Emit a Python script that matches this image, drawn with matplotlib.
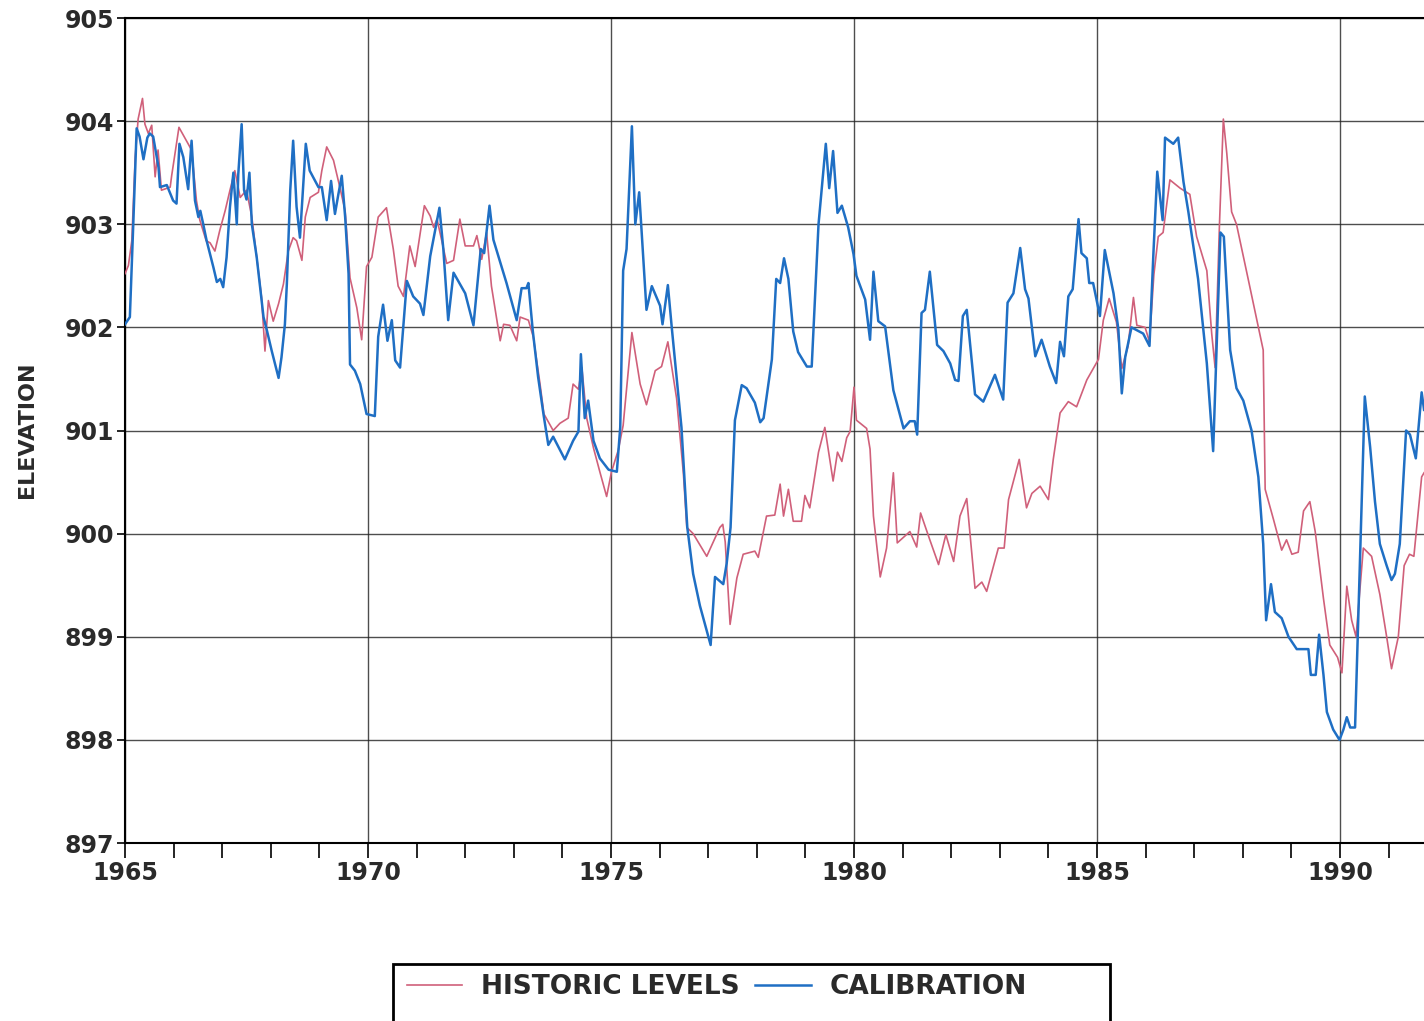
import matplotlib
matplotlib.use('Agg')
import matplotlib.pyplot as plt
from matplotlib.patches import Rectangle

# Calibration (blue)
calib_year = [1965.0, 1965.1, 1965.17, 1965.24, 1965.3, 1965.38, 1965.46, 1965.51, 1965.58, 1965.69,
              1965.72, 1965.86, 1965.99, 1966.06, 1966.12, 1966.2, 1966.3, 1966.37, 1966.44, 1966.51,
              1966.55, 1966.61, 1966.68, 1966.82, 1966.89, 1966.96, 1967.02, 1967.09, 1967.16, 1967.23,
              1967.3, 1967.33, 1967.4, 1967.45, 1967.5, 1967.56, 1967.61, 1967.71, 1967.85, 1967.92,
              1968.02, 1968.16, 1968.22, 1968.29, 1968.33, 1968.4, 1968.46, 1968.53, 1968.6, 1968.72,
              1968.8, 1968.98, 1969.05, 1969.15, 1969.24, 1969.32, 1969.39, 1969.46, 1969.53, 1969.6,
              1969.63, 1969.73, 1969.84, 1969.97, 1970.14, 1970.21, 1970.31, 1970.4, 1970.49, 1970.56,
              1970.66, 1970.8, 1970.93, 1971.07, 1971.14, 1971.28, 1971.47, 1971.55, 1971.65, 1971.76,
              1972.0, 1972.17, 1972.32, 1972.39, 1972.5, 1972.58, 1972.85, 1973.06, 1973.16, 1973.26,
              1973.3, 1973.39, 1973.5, 1973.61, 1973.71, 1973.81, 1974.05, 1974.22, 1974.33, 1974.38,
              1974.46, 1974.53, 1974.64, 1974.77, 1974.95, 1975.12, 1975.19, 1975.25, 1975.32, 1975.43,
              1975.5, 1975.58, 1975.63, 1975.73, 1975.84, 1976.01, 1976.06, 1976.17, 1976.25, 1976.45,
              1976.57, 1976.69, 1976.83, 1977.05, 1977.14, 1977.31, 1977.38, 1977.46, 1977.55, 1977.69,
              1977.79, 1977.96, 1978.07, 1978.14, 1978.31, 1978.4, 1978.48, 1978.56, 1978.65, 1978.75,
              1978.85, 1979.03, 1979.13, 1979.27, 1979.42, 1979.49, 1979.57, 1979.66, 1979.75, 1979.88,
              1979.99, 1980.05, 1980.23, 1980.33, 1980.4, 1980.5, 1980.64, 1980.81, 1981.02, 1981.15,
              1981.25, 1981.3, 1981.39, 1981.46, 1981.56, 1981.71, 1981.84, 1981.98, 1982.08, 1982.15,
              1982.24, 1982.32, 1982.49, 1982.66, 1982.9, 1983.07, 1983.16, 1983.28, 1983.42, 1983.52,
              1983.59, 1983.73, 1983.86, 1984.03, 1984.16, 1984.24, 1984.32, 1984.41, 1984.5, 1984.62,
              1984.68, 1984.79, 1984.84, 1984.92, 1985.06, 1985.16, 1985.34, 1985.44, 1985.51, 1985.58,
              1985.71, 1985.95, 1986.08, 1986.16, 1986.24, 1986.35, 1986.4, 1986.57, 1986.67, 1986.78,
              1986.88, 1987.08, 1987.26, 1987.39, 1987.46, 1987.54, 1987.61, 1987.74, 1987.87, 1988.01,
              1988.18, 1988.32, 1988.42, 1988.48, 1988.58, 1988.66, 1988.8, 1988.94, 1989.11, 1989.35,
              1989.4, 1989.5, 1989.57, 1989.66, 1989.73, 1989.86, 1989.99, 1990.07, 1990.14, 1990.21,
              1990.31, 1990.4, 1990.51, 1990.62, 1990.72, 1990.82, 1990.96, 1991.06, 1991.13, 1991.23,
              1991.36, 1991.44, 1991.56, 1991.68, 1991.73]
calib_elev = [902.03, 902.1, 903.0, 903.93, 903.85, 903.63, 903.84, 903.88, 903.85, 903.55,
              903.36, 903.38, 903.23, 903.2, 903.78, 903.65, 903.34, 903.81, 903.23, 903.07,
              903.13, 903.0, 902.84, 902.58, 902.44, 902.47, 902.39, 902.68, 903.17, 903.5,
              903.0, 903.48, 903.97, 903.33, 903.24, 903.5, 903.0, 902.68, 902.1, 901.97,
              901.77, 901.51, 901.71, 902.03, 902.42, 903.33, 903.81, 903.17, 902.87, 903.78,
              903.52, 903.36, 903.36, 903.04, 903.42, 903.1, 903.29, 903.47, 903.07, 902.52,
              901.64, 901.58, 901.45, 901.16, 901.14, 901.91, 902.22, 901.87, 902.07, 901.68,
              901.61, 902.45, 902.3, 902.23, 902.12, 902.69, 903.16, 902.76, 902.07, 902.53,
              902.33, 902.02, 902.76, 902.72, 903.18, 902.85, 902.43, 902.07, 902.38, 902.38,
              902.43, 901.97, 901.52, 901.16, 900.86, 900.94, 900.72, 900.9, 900.99, 901.74,
              901.12, 901.29, 900.9, 900.73, 900.62, 900.6, 901.03, 902.55, 902.76, 903.95,
              903.0, 903.31, 902.93, 902.17, 902.4, 902.21, 902.03, 902.41, 902.0, 901.03,
              900.06, 899.61, 899.3, 898.92, 899.58, 899.51, 899.71, 900.06, 901.1, 901.44,
              901.41, 901.27, 901.08, 901.12, 901.69, 902.47, 902.43, 902.67, 902.47, 901.96,
              901.76, 901.62, 901.62, 903.0, 903.78, 903.35, 903.71, 903.11, 903.18, 902.97,
              902.71, 902.5, 902.27, 901.88, 902.54, 902.06, 902.01, 901.39, 901.02, 901.09,
              901.09, 900.96, 902.14, 902.17, 902.54, 901.83, 901.77, 901.65, 901.49, 901.48,
              902.11, 902.17, 901.35, 901.28, 901.54, 901.3, 902.24, 902.33, 902.77, 902.37,
              902.28, 901.72, 901.88, 901.62, 901.46, 901.86, 901.72, 902.3, 902.37, 903.05,
              902.72, 902.67, 902.43, 902.43, 902.11, 902.75, 902.33, 901.98, 901.36, 901.71,
              902.0, 901.94, 901.82, 902.71, 903.51, 903.04, 903.84, 903.78, 903.84, 903.41,
              903.12, 902.47, 901.65, 900.8, 901.78, 902.92, 902.88, 901.78, 901.41, 901.29,
              901.0, 900.55, 899.9, 899.16, 899.51, 899.24, 899.18, 899.0, 898.88, 898.88,
              898.63, 898.63, 899.02, 898.63, 898.27, 898.1, 898.0, 898.1, 898.22, 898.12,
              898.12, 899.57, 901.33, 900.84, 900.31, 899.9, 899.69, 899.55, 899.61, 899.9,
              901.0, 900.96, 900.73, 901.37, 901.2]

# Historic levels (red)
hist_year = [1965.0, 1965.07, 1965.14, 1965.21, 1965.27, 1965.36, 1965.41, 1965.48, 1965.55, 1965.62,
             1965.68, 1965.75, 1965.93, 1965.96, 1966.11, 1966.3, 1966.37, 1966.47, 1966.54, 1966.67,
             1966.75, 1966.85, 1966.95, 1967.06, 1967.16, 1967.26, 1967.37, 1967.5, 1967.61, 1967.71,
             1967.81, 1967.88, 1967.95, 1968.05, 1968.16, 1968.26, 1968.36, 1968.46, 1968.53, 1968.64,
             1968.71, 1968.81, 1968.98, 1969.05, 1969.15, 1969.29, 1969.42, 1969.53, 1969.63, 1969.77,
             1969.87, 1969.97, 1970.08, 1970.21, 1970.38, 1970.52, 1970.62, 1970.73, 1970.86, 1970.97,
             1971.16, 1971.28, 1971.35, 1971.42, 1971.62, 1971.76, 1971.89, 1972.0, 1972.17, 1972.24,
             1972.34, 1972.44, 1972.54, 1972.72, 1972.79, 1972.92, 1973.06, 1973.13, 1973.3, 1973.4,
             1973.54, 1973.62, 1973.81, 1973.95, 1974.12, 1974.22, 1974.33, 1974.4, 1974.5, 1974.64,
             1974.77, 1974.91, 1975.01, 1975.15, 1975.25, 1975.43, 1975.6, 1975.73, 1975.91, 1976.04,
             1976.17, 1976.35, 1976.49, 1976.56, 1976.69, 1976.97, 1977.24, 1977.3, 1977.35, 1977.45,
             1977.59, 1977.72, 1977.96, 1978.03, 1978.2, 1978.37, 1978.48, 1978.55, 1978.65, 1978.75,
             1978.92, 1978.99, 1979.09, 1979.27, 1979.4, 1979.57, 1979.66, 1979.75, 1979.85, 1979.92,
             1980.0, 1980.05, 1980.26, 1980.33, 1980.4, 1980.54, 1980.67, 1980.81, 1980.89, 1981.15,
             1981.29, 1981.37, 1981.56, 1981.74, 1981.89, 1982.05, 1982.18, 1982.32, 1982.49, 1982.63,
             1982.73, 1982.97, 1983.09, 1983.18, 1983.4, 1983.55, 1983.66, 1983.83, 1984.0, 1984.1,
             1984.24, 1984.41, 1984.58, 1984.79, 1985.03, 1985.13, 1985.25, 1985.4, 1985.51, 1985.64,
             1985.75, 1985.82, 1985.99, 1986.08, 1986.17, 1986.26, 1986.36, 1986.5, 1986.71, 1986.91,
             1987.05, 1987.26, 1987.36, 1987.43, 1987.52, 1987.6, 1987.67, 1987.77, 1987.87, 1988.11,
             1988.32, 1988.42, 1988.46, 1988.63, 1988.8, 1988.9, 1989.01, 1989.14, 1989.25, 1989.38,
             1989.49, 1989.66, 1989.79, 1989.95, 1990.04, 1990.14, 1990.24, 1990.33, 1990.48, 1990.65,
             1990.82, 1990.96, 1991.06, 1991.2, 1991.32, 1991.43, 1991.52, 1991.68, 1991.73]
hist_elev = [902.52, 902.6, 902.84, 903.65, 904.02, 904.22, 903.97, 903.88, 903.96, 903.46,
             903.72, 903.33, 903.36, 903.47, 903.94, 903.78, 903.72, 903.23, 903.04, 902.84,
             902.82, 902.74, 902.94, 903.13, 903.33, 903.52, 903.26, 903.33, 903.07, 902.68,
             902.29, 901.77, 902.26, 902.06, 902.23, 902.42, 902.74, 902.87, 902.84, 902.65,
             903.07, 903.26, 903.31, 903.52, 903.75, 903.62, 903.36, 903.13, 902.48, 902.19,
             901.88, 902.59, 902.68, 903.07, 903.16, 902.76, 902.4, 902.3, 902.79, 902.59,
             903.18, 903.08, 902.97, 903.05, 902.62, 902.65, 903.05, 902.79, 902.79, 902.89,
             902.66, 902.92, 902.4, 901.87, 902.03, 902.02, 901.87, 902.1, 902.07, 901.91,
             901.45, 901.16, 901.0, 901.07, 901.12, 901.45, 901.4, 901.61, 901.12, 900.83,
             900.6, 900.36, 900.6, 900.81, 901.05, 901.95, 901.45, 901.25, 901.58, 901.62,
             901.86, 901.31, 900.58, 900.06, 900.0, 899.78, 900.06, 900.09, 899.92, 899.12,
             899.57, 899.8, 899.83, 899.77, 900.17, 900.18, 900.48, 900.17, 900.43, 900.12,
             900.12, 900.37, 900.25, 900.79, 901.03, 900.51, 900.79, 900.7, 900.93, 900.99,
             901.42, 901.1, 901.02, 900.82, 900.17, 899.58, 899.86, 900.59, 899.91, 900.02,
             899.87, 900.2, 899.94, 899.7, 899.99, 899.73, 900.17, 900.34, 899.47, 899.53,
             899.44, 899.86, 899.86, 900.33, 900.72, 900.25, 900.39, 900.46, 900.33, 900.72,
             901.17, 901.28, 901.23, 901.49, 901.69, 902.07, 902.28, 902.05, 901.6, 901.82,
             902.29, 902.02, 902.0, 901.86, 902.51, 902.88, 902.92, 903.43, 903.35, 903.29,
             902.88, 902.55, 901.94, 901.61, 903.0, 904.02, 903.69, 903.12, 903.0, 902.47,
             902.0, 901.78, 900.43, 900.14, 899.84, 899.94, 899.8, 899.82, 900.22, 900.31,
             900.02, 899.37, 898.92, 898.8, 898.65, 899.49, 899.16, 899.0, 899.86, 899.78,
             899.41, 899.0, 898.69, 899.0, 899.69, 899.8, 899.78, 900.55, 900.59]

year_ticks = [1965, 1970, 1975, 1980, 1985, 1990]
elev_ticks = [897, 898, 899, 900, 901, 902, 903, 904, 905]

plt.rcParams['font.family'] = ['DejaVu Sans']
plt.rcParams['font.weight'] = 'bold'
text_col = '#2a2a2a'

W, H = 1424, 1021
fig = plt.figure(figsize=(W / 100, H / 100), dpi=100)
ax = fig.add_axes([125 / W, 1 - 843 / H, 1 - 125 / W, (843 - 18) / H])

ax.plot(hist_year, hist_elev, color='#d0607a', lw=1.2, label='HISTORIC LEVELS', zorder=3)
ax.plot(calib_year, calib_elev, color='#1f6fc4', lw=1.8, label='CALIBRATION', zorder=4)

ax.set_xlim(1965, 1965 + (W - 125) / 48.6)
ax.set_ylim(897, 905)
ax.set_xticks(year_ticks)
ax.set_xticks(range(1965, 1992), minor=True)
ax.set_yticks(elev_ticks)
ax.tick_params(axis='x', which='both', direction='out', length=11, width=1.2,
               labelsize=17, pad=2, labelcolor=text_col)
ax.tick_params(axis='y', direction='out', length=6, width=1.2, labelsize=17, pad=2,
               labelcolor=text_col)
for lab in ax.get_xticklabels() + ax.get_yticklabels():
    lab.set_fontweight('bold')

ax.grid(True, which='major', color='#222222', lw=1.0, alpha=0.8)
ax.spines['right'].set_visible(False)
for s in ['left', 'bottom', 'top']:
    ax.spines[s].set_linewidth(1.5)

fig.text(27 / W, 1 - 430 / H, 'ELEVATION', rotation=90, ha='center', va='center',
         fontsize=16, fontweight='bold', color=text_col)

leg = fig.legend(loc='center left', bbox_to_anchor=(407 / W, 1 - 987 / H), ncol=2,
                 frameon=False, fontsize=19, handlelength=2.1, handletextpad=0.7,
                 columnspacing=0.6, borderpad=0, borderaxespad=0)
for t in leg.get_texts():
    t.set_fontweight('bold')
    t.set_color(text_col)
fig.patches.append(Rectangle((393 / W, 1 - 1030 / H), (1110 - 393) / W, 66 / H,
                             transform=fig.transFigure, fill=False, ec='black', lw=2))

fig.savefig('out.png', dpi=100)
